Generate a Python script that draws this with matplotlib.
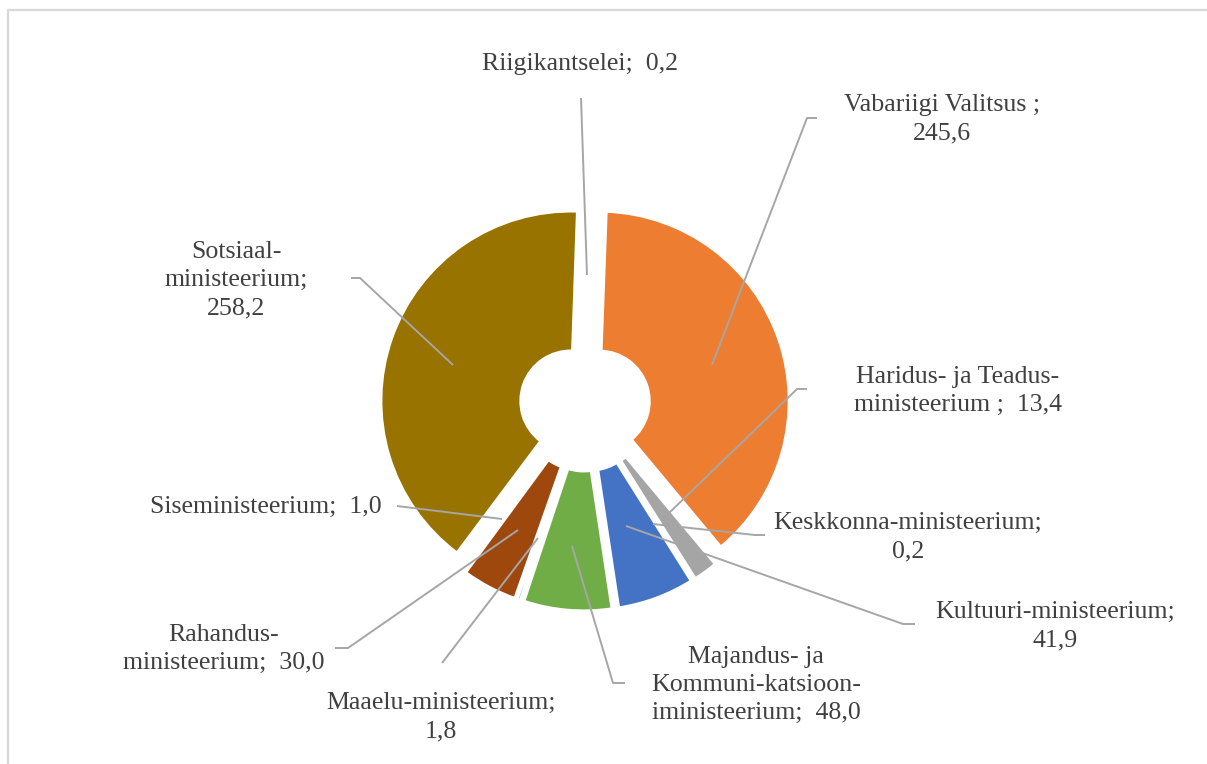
import matplotlib
matplotlib.use("Agg")
import matplotlib.pyplot as plt

# ---- andmed (mln eurot) ----
ministries = ["Riigikantselei", "Vabariigi Valitsus", "Haridus- ja Teadusministeerium",
              "Keskkonnaministeerium", "Kultuuriministeerium",
              "Majandus- ja Kommunikatsiooniministeerium", "Maaeluministeerium",
              "Rahandusministeerium", "Siseministeerium", "Sotsiaalministeerium"]
values = [0.2, 245.6, 13.4, 0.2, 41.9, 48.0, 1.8, 30.0, 1.0, 258.2]
label_fmt = [
    "Riigikantselei;  {}",
    "Vabariigi Valitsus ;\n{}",
    "Haridus- ja Teadus-\nministeerium ;  {}",
    "Keskkonna-ministeerium;\n{}",
    "Kultuuri-ministeerium;\n{}",
    "Majandus- ja\nKommuni-katsioon-\niministeerium;  {}",
    "Maaelu-ministeerium;\n{}",
    "Rahandus-\nministeerium;  {}",
    "Siseministeerium;  {}",
    "Sotsiaal-\nministeerium;\n{}",
]
colors = ["#4472C4", "#ED7D31", "#A5A5A5", "#FFC000", "#4472C4",
          "#70AD47", "#264478", "#9E480E", "#636363", "#997300"]

# ---- paigutus (pikslites, y alla) ----
W, H = 1207, 764
center = (585, 406)
r_out, r_in, expl = 190, 50, 15

label_pos = [(580, 64), (942, 119), (958, 391), (908, 537), (1055, 626),
             (756, 685), (441, 717), (224, 649), (266, 507), (236, 280)]
leaders = [
    [(581, 98), (587, 275)],
    [(817, 118), (807, 118), (712, 365)],
    [(807, 389), (797, 389), (667, 515)],
    [(765, 535), (755, 535), (653, 524)],
    [(915, 624), (903, 624), (626, 526)],
    [(625, 683), (613, 683), (572, 546)],
    [(442, 663), (538, 538)],
    [(335, 648), (348, 648), (518, 530)],
    [(397, 506), (502, 519)],
    [(351, 278), (360, 278), (453, 365)],
]

fig = plt.figure(figsize=(W / 100, H / 100), dpi=100)
ax = fig.add_axes([0, 0, 1, 1])

ax.pie(values, colors=colors, startangle=88, counterclock=False,
       radius=r_out, center=(center[0], H - center[1]),
       explode=[expl] * len(values),
       wedgeprops=dict(width=r_out - r_in, edgecolor="white", linewidth=2.2))

ax.set_aspect("auto")
ax.set_xlim(0, W)
ax.set_ylim(0, H)
ax.axis("off")

# leader lines
for pts in leaders:
    xs = [p[0] for p in pts]
    ys = [H - p[1] for p in pts]
    ax.plot(xs, ys, color="#A6A6A6", lw=1.4, solid_capstyle="butt", zorder=3)

# labels
for fmt, v, (x, y) in zip(label_fmt, values, label_pos):
    txt = fmt.format(f"{v:.1f}".replace(".", ","))
    ax.text(x, H - y, txt, ha="center", va="center", multialignment="center",
            fontsize=18.6, family="Liberation Serif", color="#404040",
            linespacing=1.36, zorder=4)

# chart frame (only top and left visible in the crop)
ax.plot([7.5, 7.5, W], [0, H - 9.5, H - 9.5], color="#D9D9D9", lw=1.6,
        clip_on=False, zorder=1)

fig.savefig("out.png", dpi=100, facecolor="white")
